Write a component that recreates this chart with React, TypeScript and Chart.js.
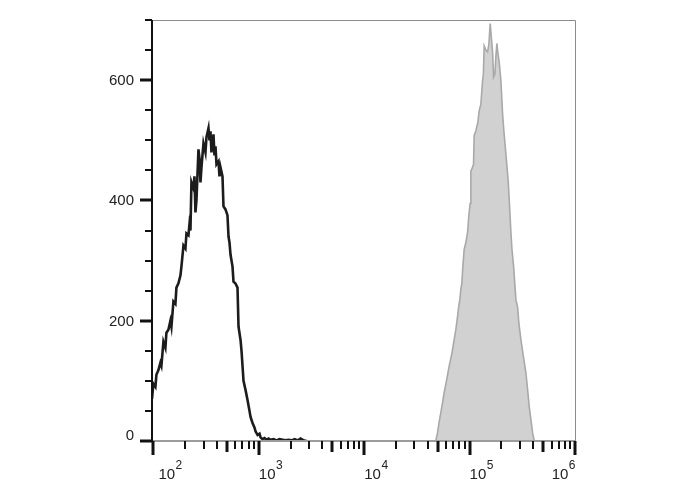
import React, { useEffect, useRef } from "react";
import { Chart, registerables } from "chart.js";

Chart.register(...registerables);

// Unstained / isotype control histogram (black outline)
const controlX = [97, 100, 104.5, 106.8, 111.6, 116.5, 119.1, 124.5, 130.0, 132.9, 138.8, 145.0, 148.3, 154.9, 161.8, 165.4, 172.8, 180.5, 184.5, 192.8, 201.4, 205.9, 215.1, 219.8, 224.7, 229.6, 239.9, 245.2, 250.6, 256.2, 267.7, 273.5, 279.7, 285.8, 298.6, 311.9, 318.9, 333.2, 340.4, 348.0, 355.6, 363.6, 371.5, 379.8, 388.2, 396.8, 414.6, 423.7, 433.2, 452.5, 462.4, 483.1, 504.7, 516.0, 527.2, 539.0, 563.2, 575.4, 601.2, 628.1, 642.2, 671.0, 685.5, 716.1, 748.2, 781.6, 816.6, 835.0, 872.3, 911.3, 931.1, 972.8, 1016, 1039, 1085, 1134, 1185, 1238, 1293, 1381, 1474, 1574, 1682, 1795, 1918, 2047, 2188, 2336, 2493, 2662, 2843];
const controlY = [70, 95, 90, 110, 118, 130, 125, 165, 155, 180, 185, 200, 190, 232, 228, 255, 262, 275, 290, 325, 320, 345, 342, 360, 350, 430, 420, 440, 380, 400, 485, 470, 430, 455, 495, 480, 505, 520, 500, 515, 480, 495, 510, 475, 490, 460, 465, 440, 455, 440, 390, 385, 375, 340, 330, 310, 290, 265, 262, 255, 190, 168, 150, 100, 85, 68, 50, 40, 30, 22, 16, 10, 12, 6, 3, 5, 2, 4, 2, 3, 1, 3, 2, 1, 2, 1, 3, 1, 4, 1, 0];

// Stained sample histogram (grey filled)
const stainedX = [47780, 49590, 51020, 53310, 55690, 57300, 60780, 63920, 67800, 71300, 74030, 76820, 79060, 80800, 82590, 84420, 86290, 88770, 92130, 95620, 98370, 101200, 102800, 105000, 109000, 110500, 114700, 119800, 123200, 127900, 132700, 135100, 137500, 142700, 148100, 152400, 156800, 161000, 165200, 168900, 173800, 177600, 181500, 185500, 190900, 198200, 205700, 211600, 221000, 232500, 237600, 246600, 252000, 261600, 275000, 285500, 293700, 306900, 324200, 342300, 357600, 368000, 381900, 396400, 410600];
const stainedY = [0, 13, 28, 47, 66, 80, 103, 124, 145, 168, 185, 207, 225, 235, 252, 262, 290, 318, 330, 347, 375, 395, 449, 452, 460, 508, 516, 530, 549, 560, 599, 610, 657, 650, 647, 660, 694, 670, 647, 605, 610, 640, 661, 645, 630, 599, 543, 515, 477, 432, 402, 347, 320, 290, 235, 222, 195, 168, 140, 113, 80, 57, 35, 13, 0];

const yTicks = [0, 50, 100, 150, 200, 250, 300, 350, 400, 450, 500, 550, 600, 650, 700];
const yLabels = [0, 200, 400, 600];
const xDecades = [2, 3, 4, 5, 6];
const X_MIN = 97;
const X_MAX = 1e6;
const Y_MAX = 700;

const FONT = "'Liberation Sans', Arial, sans-serif";

const axesPlugin = {
  id: "flowAxes",
  afterDatasetsDraw(chart: any) {
    const { ctx, chartArea, scales } = chart;
    const { left, right, top, bottom } = chartArea;
    const xs = scales.x;
    const ys = scales.y;
    ctx.save();
    // frame top/right
    ctx.strokeStyle = "#8c8c8c";
    ctx.lineWidth = 1;
    ctx.beginPath();
    ctx.moveTo(left, top + 0.5);
    ctx.lineTo(right + 0.5, top + 0.5);
    ctx.lineTo(right + 0.5, bottom);
    ctx.stroke();
    // bottom axis
    ctx.strokeStyle = "#9c9c9c";
    ctx.lineWidth = 2;
    ctx.beginPath();
    ctx.moveTo(left, bottom);
    ctx.lineTo(right + 1, bottom);
    ctx.stroke();
    // left axis
    ctx.strokeStyle = "#111";
    ctx.lineWidth = 2;
    ctx.beginPath();
    ctx.moveTo(left, top);
    ctx.lineTo(left, bottom + 1);
    ctx.stroke();
    // y ticks and labels
    ctx.strokeStyle = "#111";
    ctx.fillStyle = "#222";
    ctx.font = `15px ${FONT}`;
    ctx.textAlign = "right";
    ctx.textBaseline = "middle";
    yTicks.forEach((v) => {
      const py = Math.round(ys.getPixelForValue(v));
      const major = yLabels.includes(v);
      ctx.lineWidth = major ? 3 : 2;
      ctx.beginPath();
      ctx.moveTo(left - (major ? 12 : 7), py);
      ctx.lineTo(left, py);
      ctx.stroke();
      if (major) {
        const ly = v === 0 ? py - 5 : py + 1;
        ctx.fillText(String(v), left - 18, ly);
      }
    });
    // x ticks
    xDecades.forEach((e) => {
      const base = Math.pow(10, e);
      const px = Math.round(xs.getPixelForValue(base));
      ctx.lineWidth = 3;
      ctx.beginPath();
      ctx.moveTo(px, bottom);
      ctx.lineTo(px, bottom + 14);
      ctx.stroke();
      if (e < 6) {
        for (let m = 2; m <= 9; m++) {
          const p = Math.round(xs.getPixelForValue(base * m));
          const mid = m === 5;
          ctx.lineWidth = mid ? 3 : 2;
          ctx.beginPath();
          ctx.moveTo(p, bottom);
          ctx.lineTo(p, bottom + (mid ? 11 : 8));
          ctx.stroke();
        }
      }
    });
    // x labels 10^n
    ctx.textAlign = "left";
    ctx.textBaseline = "alphabetic";
    xDecades.forEach((e, i) => {
      const px = xs.getPixelForValue(Math.pow(10, e));
      ctx.font = `15px ${FONT}`;
      const w1 = ctx.measureText("10").width;
      ctx.font = `12px ${FONT}`;
      const w2 = ctx.measureText(String(e)).width;
      let x0 = px;
      if (i === 0) x0 = px + 5;
      if (i === xDecades.length - 1) x0 = px - w1 - w2;
      ctx.font = `15px ${FONT}`;
      ctx.fillText("10", x0, bottom + 38);
      ctx.font = `12px ${FONT}`;
      ctx.fillText(String(e), x0 + w1 + 0.5, bottom + 28);
    });
    ctx.restore();
  },
};

export default function App() {
  const ref = useRef<HTMLCanvasElement | null>(null);
  useEffect(() => {
    if (!ref.current) return;
    const chart = new Chart(ref.current, {
      type: "line",
      data: {
        datasets: [
          {
            label: "Stained",
            data: stainedX.map((x, i) => ({ x, y: stainedY[i] })),
            borderColor: "#a9a9a9",
            backgroundColor: "#d1d1d1",
            borderWidth: 1.6,
            fill: "origin",
            pointRadius: 0,
            tension: 0,
          },
          {
            label: "Control",
            data: controlX.map((x, i) => ({ x, y: controlY[i] })),
            borderColor: "#1c1c1c",
            borderWidth: 2.6,
            fill: false,
            pointRadius: 0,
            tension: 0,
          },
        ],
      },
      options: {
        responsive: false,
        animation: false,
        devicePixelRatio: 1,
        layout: { padding: { left: 0, right: 113, top: 20, bottom: 0 } },
        plugins: { legend: { display: false }, tooltip: { enabled: false } },
        scales: {
          x: {
            type: "logarithmic",
            min: X_MIN,
            max: X_MAX,
            grid: { display: false },
            border: { display: false },
            ticks: { display: false },
            afterFit: (s: any) => {
              s.height = 49;
            },
          },
          y: {
            type: "linear",
            min: 0,
            max: Y_MAX,
            grid: { display: false },
            border: { display: false },
            ticks: { display: false, stepSize: 50 },
            afterFit: (s: any) => {
              s.width = 152;
            },
          },
        },
      },
      plugins: [axesPlugin],
    });
    return () => chart.destroy();
  }, []);
  return (
    <div style={{ position: "absolute", left: 0, top: 0, width: 688, height: 490, background: "#fff" }}>
      <canvas ref={ref} width={688} height={490} style={{ display: "block" }} />
    </div>
  );
}
